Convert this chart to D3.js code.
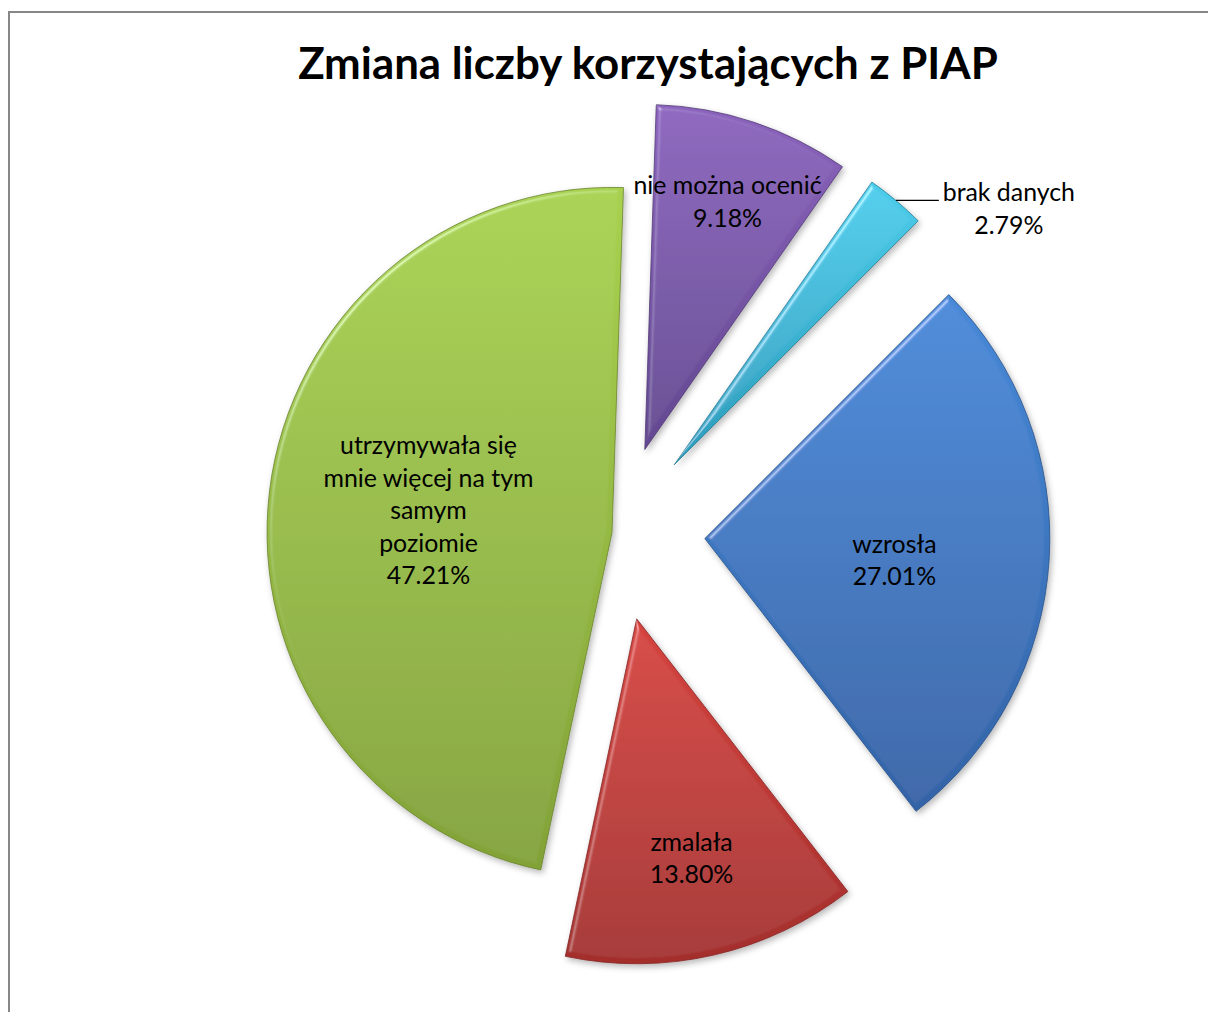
<!DOCTYPE html>
<html>
<head>
<meta charset="utf-8">
<script src="https://cdn.jsdelivr.net/npm/d3@7/dist/d3.min.js"></script>
<style>
  html, body { margin: 0; padding: 0; background: #fff; }
  svg { display: block; }
  text { font-family: Lato, "Noto Sans", sans-serif; fill: #000; }
</style>
</head>
<body>
<script>
// ---- data ----
const title = "Zmiana liczby korzystających z PIAP";
const categories = ["wzrosła", "zmalała", "utrzymywała się mnie więcej na tym samym poziomie", "nie można ocenić", "brak danych"];
const values = [27.01, 13.80, 47.21, 9.18, 2.79];
const labelLines = [["wzrosła"], ["zmalała"], ["utrzymywała się", "mnie więcej na tym", "samym", "poziomie"], ["nie można ocenić"], ["brak danych"]];

// ---- styles / layout ----
const colorsTop    = ["#4789d8", "#d6443f", "#a8d14f", "#8b63bd", "#4ccdeb"];
const colorsBottom = ["#3363a6", "#a32e2c", "#82a238", "#634890", "#2d9bbb"];
const explodePx    = [88, 88, 5, 88, 89];
const labelFactor  = [0.553, 0.712, 0.536, 0.758, null];
const labelAngleShiftDeg = [2.8, 0, 0, 0, 0];

const W = 1208, H = 1012;
const cx = 617, cy = 533, R = 345;
const lineGap = 32.5;

const svg = d3.select("body").append("svg").attr("width", W).attr("height", H);
svg.append("rect").attr("width", W).attr("height", H).attr("fill", "#fff");
// chart frame (extends beyond the viewport on right/bottom)
svg.append("rect").attr("x", 9).attr("y", 12).attr("width", W + 20).attr("height", H + 20)
  .attr("fill", "none").attr("stroke", "#878787").attr("stroke-width", 2);

const defs = svg.append("defs");
values.forEach((v, i) => {
  const g = defs.append("linearGradient").attr("id", "grad" + i)
    .attr("x1", 0).attr("y1", 0).attr("x2", 0).attr("y2", 1);
  g.append("stop").attr("offset", "0%").attr("stop-color", colorsTop[i]);
  g.append("stop").attr("offset", "100%").attr("stop-color", colorsBottom[i]);
});

const f = defs.append("filter").attr("id", "bevel")
  .attr("x", "-10%").attr("y", "-10%").attr("width", "125%").attr("height", "125%");
f.append("feGaussianBlur").attr("in", "SourceAlpha").attr("stdDeviation", 2.5).attr("result", "blur");
const spec = f.append("feSpecularLighting").attr("in", "blur").attr("surfaceScale", 4)
  .attr("specularConstant", 0.8).attr("specularExponent", 30).attr("lighting-color", "#ffffff").attr("result", "spec");
spec.append("feDistantLight").attr("azimuth", 225).attr("elevation", 40);
f.append("feComposite").attr("in", "spec").attr("in2", "SourceAlpha").attr("operator", "in").attr("result", "specIn");
f.append("feComposite").attr("in", "SourceGraphic").attr("in2", "specIn").attr("operator", "arithmetic")
  .attr("k1", 0).attr("k2", 1).attr("k3", 0.45).attr("k4", 0).attr("result", "lit");
f.append("feOffset").attr("in", "SourceAlpha").attr("dx", 2).attr("dy", 3).attr("result", "off");
f.append("feGaussianBlur").attr("in", "off").attr("stdDeviation", 3).attr("result", "sblur");
f.append("feFlood").attr("flood-color", "#000").attr("flood-opacity", 0.28).attr("result", "flood");
f.append("feComposite").attr("in", "flood").attr("in2", "sblur").attr("operator", "in").attr("result", "shadow");
const m = f.append("feMerge");
m.append("feMergeNode").attr("in", "shadow");
m.append("feMergeNode").attr("in", "lit");

const pie = d3.pie().sort(null).value(d => d)
  .startAngle(Math.PI / 4).endAngle(Math.PI / 4 + 2 * Math.PI);
const arcs = pie(values);
const arc = d3.arc().innerRadius(0).outerRadius(R);

const dir = a => [Math.sin(a), -Math.cos(a)];

const slices = svg.append("g").attr("transform", `translate(${cx},${cy})`);
arcs.forEach((a, i) => {
  const mid = (a.startAngle + a.endAngle) / 2;
  const [dx, dy] = dir(mid);
  const ox = dx * explodePx[i], oy = dy * explodePx[i];
  slices.append("path")
    .attr("d", arc(a))
    .attr("transform", `translate(${ox},${oy})`)
    .attr("fill", `url(#grad${i})`)
    .attr("stroke", d3.color(colorsBottom[i]).darker(0.6))
    .attr("stroke-width", 0.8)
    .attr("filter", "url(#bevel)");
});

// ---- font sizing (fit to reference text widths) ----
function fitSize(text, weight, target) {
  const t = svg.append("text").attr("font-size", 100).attr("font-weight", weight).text(text);
  const w = t.node().getComputedTextLength();
  t.remove();
  return 100 * target / w;
}
const labelSize = fitSize("mnie więcej na tym", 400, 210);
const titleSize = fitSize(title, 700, 700);

svg.append("text").attr("x", 648).attr("y", 79).attr("text-anchor", "middle")
  .attr("font-weight", 700).attr("font-size", titleSize).text(title);

const fmt = d => d3.format(".2f")(d) + "%";
const labels = svg.append("g").attr("transform", `translate(${cx},${cy})`);
arcs.forEach((a, i) => {
  const mid = (a.startAngle + a.endAngle) / 2;
  const [dx, dy] = dir(mid);
  const ox = dx * explodePx[i], oy = dy * explodePx[i];
  const lines = labelLines[i].concat([fmt(values[i])]);
  let lx, ly;
  if (labelFactor[i] !== null) {
    const [ldx, ldy] = dir(mid + labelAngleShiftDeg[i] * Math.PI / 180);
    lx = ox + ldx * R * labelFactor[i];
    ly = oy + ldy * R * labelFactor[i];
  } else {
    // outside label with leader line
    const px = ox + dx * R, py = oy + dy * R;
    const ex = px + 43;
    labels.append("line").attr("x1", px).attr("y1", py).attr("x2", ex).attr("y2", py)
      .attr("stroke", "#000").attr("stroke-width", 1.3);
    lx = ex + 70;
    ly = py + 8;
  }
  const t = labels.append("text").attr("text-anchor", "middle").attr("font-size", labelSize);
  lines.forEach((s, k) => {
    t.append("tspan").attr("x", lx)
      .attr("y", ly + (k - (lines.length - 1) / 2) * lineGap + labelSize * 0.36)
      .text(s);
  });
});
</script>
</body>
</html>
